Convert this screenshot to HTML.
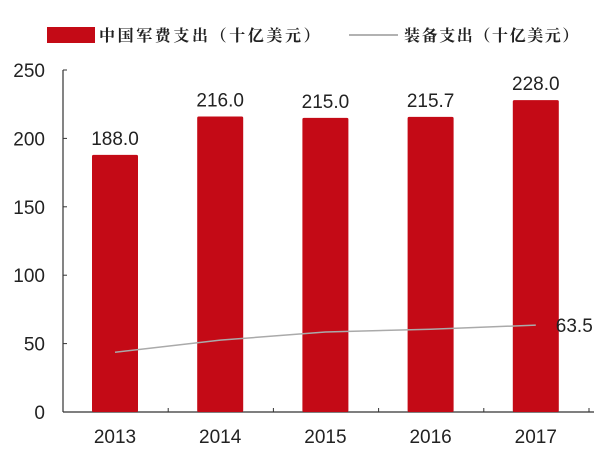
<!DOCTYPE html>
<html><head><meta charset="utf-8"><style>
body{margin:0;background:#fff;width:612px;height:454px;overflow:hidden}
svg{display:block;font-family:"Liberation Sans","Noto Sans CJK SC",sans-serif}
.lg{font-family:"Liberation Serif","Noto Serif CJK SC",serif;font-weight:bold}
</style></head><body>
<svg id="c" width="612" height="454">
<g>
<rect x="47" y="27" width="48" height="16" fill="#c40a16"/>
<text class="lg" x="99" y="41" font-size="16" letter-spacing="2.6" fill="#222">中国军费支出（十亿美元）</text>
<line x1="349" y1="35" x2="398" y2="35" stroke="#999" stroke-width="1.5"/>
<text class="lg" x="404" y="41" font-size="16" letter-spacing="1.6" fill="#222">装备支出（十亿美元）</text>
</g>
</svg>
<script>
const categories=["2013","2014","2015","2016","2017"];
const military=[188.0,216.0,215.0,215.7,228.0];
const equipment=[43.7,52.5,58.5,60.5,63.5];
const yTicks=[0,50,100,150,200,250];
const svg=document.getElementById('c');
const NS='http://www.w3.org/2000/svg';
const y0=412, k=1.368, x0=63, step=105.2, bw=46;
const Y=v=>y0-v*k;
const X=i=>x0+52+i*step;
function mk(t,a){const e=document.createElementNS(NS,t);for(const n in a)e.setAttribute(n,a[n]);svg.appendChild(e);return e;}
let ax=mk('line',{x1:x0,y1:Y(250),x2:x0,y2:y0,stroke:'#333','stroke-width':1.2});


let bx=mk('line',{x1:x0,y1:y0,x2:x0+step*5+5,y2:y0,stroke:'#333','stroke-width':1.2});


yTicks.forEach(v=>{
 let t=mk('line',{x1:x0,y1:Y(v),x2:x0+4,y2:Y(v),stroke:'#333'});
 
 
 let l=mk('text',{x:45,y:Y(v)+7,'font-size':19,'text-anchor':'end',fill:'#222'});
 l.textContent=v;
 
 
});
categories.forEach((c,i)=>{
 let t=mk('line',{x1:x0+step*(i+1),y1:y0,x2:x0+step*(i+1),y2:y0-4,stroke:'#333'});
 
 
 let b=mk('rect',{x:X(i)-bw/2,y:Y(military[i]),width:bw,height:military[i]*k,fill:'#c40a16',rx:1.5});
 
 
 let v=mk('text',{x:X(i),y:Y(military[i])-10,'font-size':19,'text-anchor':'middle',fill:'#222'});
 v.textContent=military[i].toFixed(1);
 
 
 let l=mk('text',{x:X(i),y:443,'font-size':19,'text-anchor':'middle',fill:'#222'});
 l.textContent=c;
 
 
});
let p=mk('polyline',{points:equipment.map((v,i)=>X(i)+','+Y(v)).join(' '),fill:'none',stroke:'#aaa','stroke-width':1.5});


const last=equipment.length-1;
let el=mk('text',{x:X(last)+20,y:Y(equipment[last])+7,'font-size':19,fill:'#222'});
el.textContent=equipment[last].toFixed(1);


</script>
</body></html>
